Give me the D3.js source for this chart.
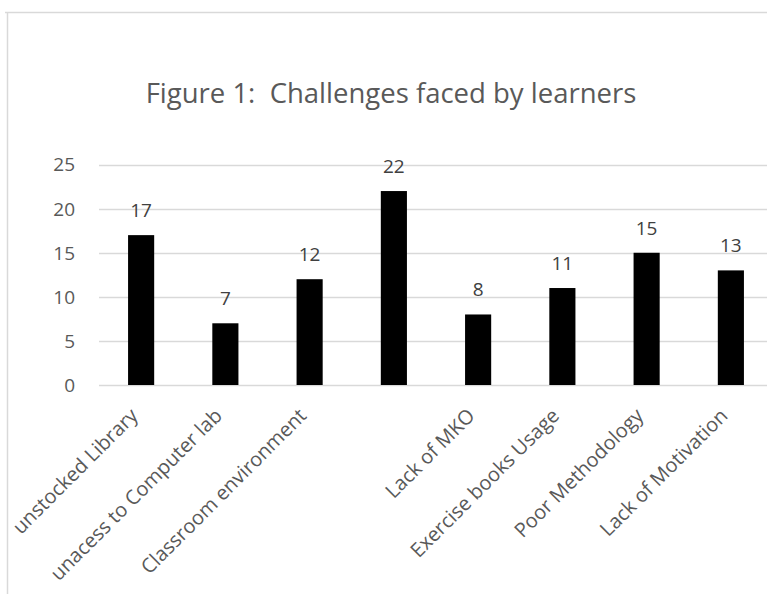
<!DOCTYPE html>
<html>
<head>
<meta charset="utf-8">
<script src="https://cdn.jsdelivr.net/npm/d3@7"></script>
<style>
  body { margin: 0; background: #fff; }
  svg { display: block; font-family: "Open Sans", sans-serif; }
</style>
</head>
<body>
<div id="chart"></div>
<script>
var w = 767
var h = 594

// values
var categories = ["unstocked Library", "unacess to Computer lab", "Classroom environment", "",
                  "Lack of MKO", "Exercise books Usage", "Poor Methodology", "Lack of Motivation"]
var values = [17, 7, 12, 22, 8, 11, 15, 13]
var yTicks = [0, 5, 10, 15, 20, 25]
var title = "Figure 1:  Challenges faced by learners"

var plotLeft = 99, plotRight = 773, plotTop = 164.6, plotBottom = 385

var svg = d3.select("#chart").append("svg").attr("width", w).attr("height", h)

// chart area border (cropped on the right and bottom)
svg.append("line").attr("x1", 5).attr("x2", w).attr("y1", 12.5).attr("y2", 12.5)
    .attr("stroke", "#d9d9d9").attr("stroke-width", 1.5)
svg.append("line").attr("x1", 7.5).attr("x2", 7.5).attr("y1", 12).attr("y2", h)
    .attr("stroke", "#d9d9d9").attr("stroke-width", 1.5)

var x = d3.scaleBand()
    .domain(d3.range(categories.length))
    .range([plotLeft, plotRight])
    .paddingInner(0.69)
    .paddingOuter(0.345)

var y = d3.scaleLinear().domain([0, 25]).range([plotBottom, plotTop])

// gridlines
svg.append("g").selectAll("line")
    .data(yTicks)
    .enter()
    .append("line")
    .attr("x1", plotLeft).attr("x2", plotRight)
    .attr("y1", function(d){ return Math.round(y(d)) + 0.5 })
    .attr("y2", function(d){ return Math.round(y(d)) + 0.5 })
    .attr("stroke", "#d9d9d9")
    .attr("stroke-width", 1.3)

// y tick labels
svg.append("g").selectAll("text")
    .data(yTicks)
    .enter()
    .append("text")
    .attr("x", 75)
    .attr("y", function(d){ return y(d) })
    .attr("dy", "0.36em")
    .attr("text-anchor", "end")
    .attr("font-size", 19)
    .attr("fill", "#595959")
    .text(function(d){ return d })

// bars
svg.append("g").selectAll("rect")
    .data(values)
    .enter()
    .append("rect")
    .attr("x", function(d, i){ return x(i) })
    .attr("width", x.bandwidth())
    .attr("y", function(d){ return y(d) })
    .attr("height", function(d){ return y(0) - y(d) })
    .attr("fill", "#000")

// data labels
svg.append("g").selectAll("text")
    .data(values)
    .enter()
    .append("text")
    .attr("x", function(d, i){ return x(i) + x.bandwidth() / 2 })
    .attr("y", function(d){ return y(d) - 18 })
    .attr("text-anchor", "middle")
    .attr("font-size", 19)
    .attr("fill", "#404040")
    .text(function(d){ return d })

// category labels, rotated
svg.append("g").selectAll("text")
    .data(categories)
    .enter()
    .append("text")
    .attr("transform", function(d, i){
        return "translate(" + (x(i) + x.bandwidth() / 2 - 2) + "," + 417 + ") rotate(-45)"
    })
    .attr("text-anchor", "end")
    .attr("font-size", 20)
    .attr("fill", "#595959")
    .text(function(d){ return d })

// title
svg.append("text")
    .attr("x", 391)
    .attr("y", 103)
    .attr("text-anchor", "middle")
    .attr("font-size", 27.5)
    .attr("fill", "#595959")
    .style("white-space", "pre")
    .text(title)
</script>
</body>
</html>
